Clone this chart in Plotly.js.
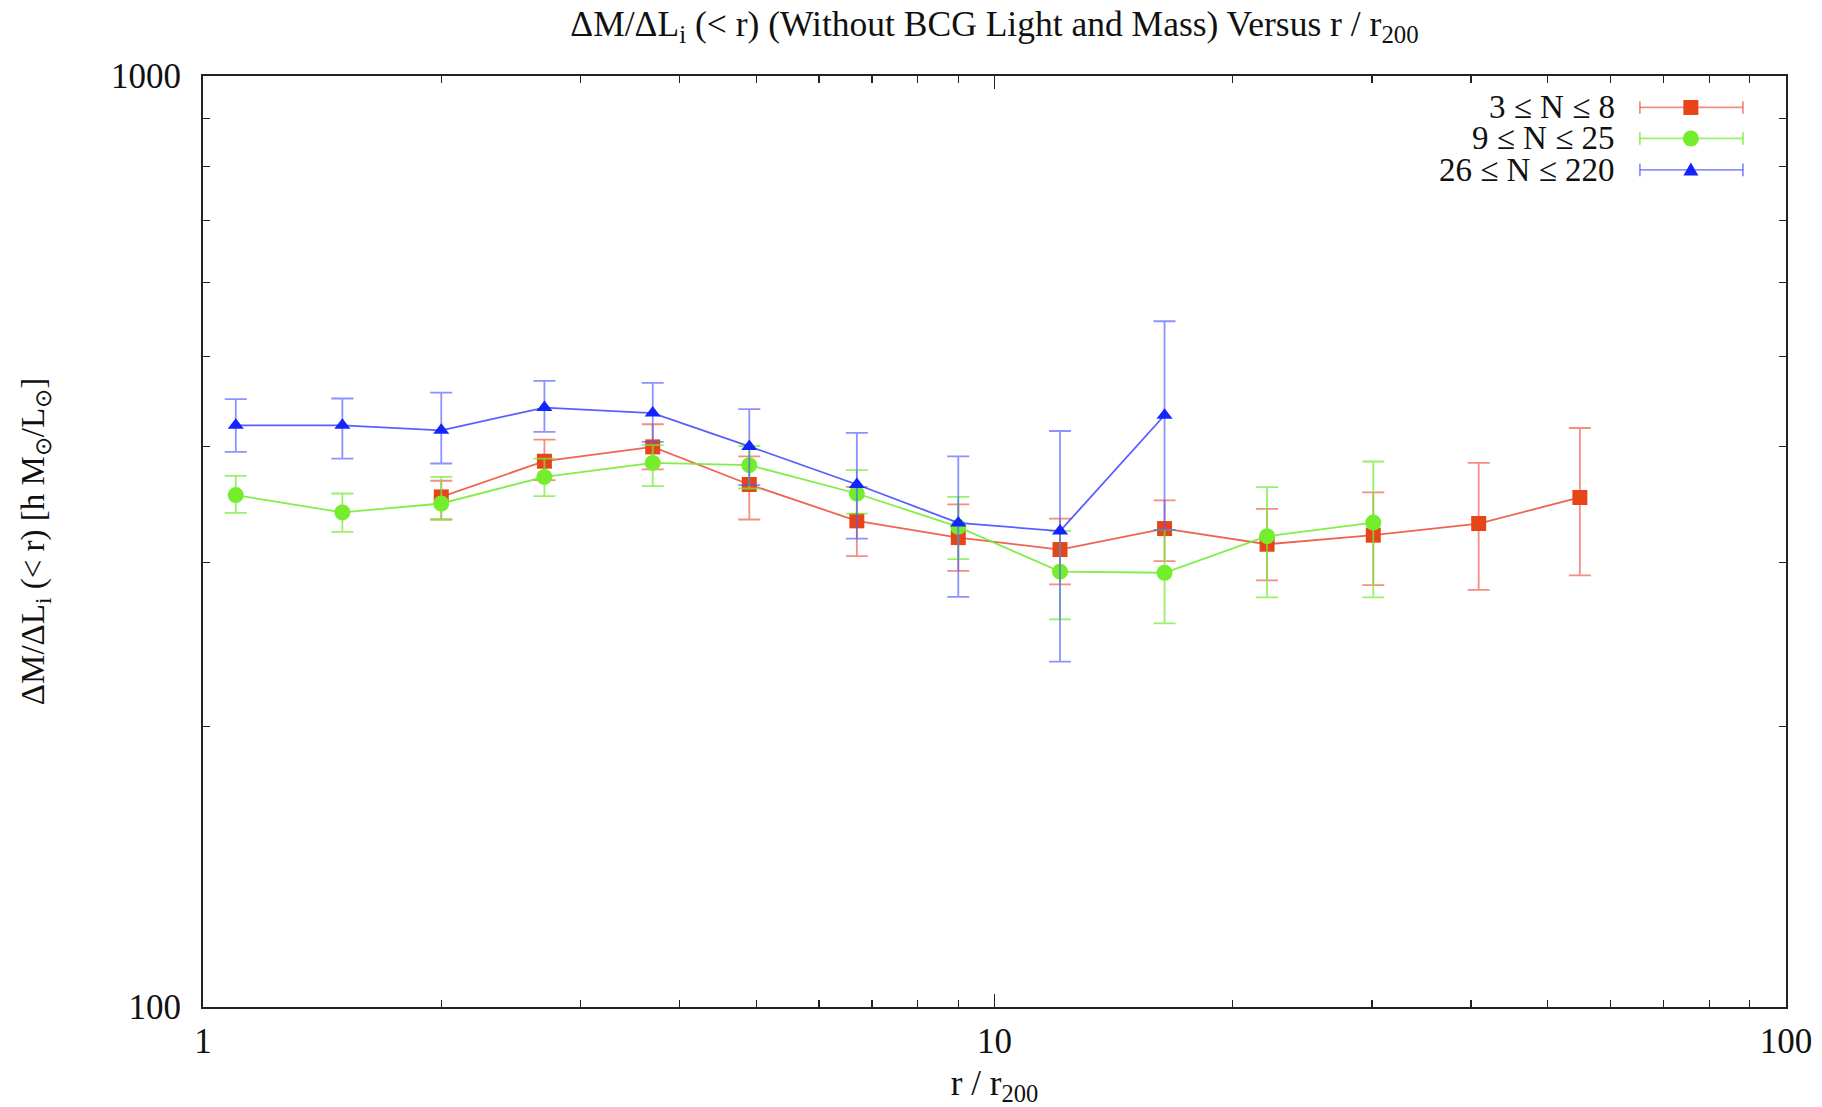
<!DOCTYPE html>
<html>
<head>
<meta charset="utf-8">
<script src="https://cdn.plot.ly/plotly-3.0.1.min.js"></script>
<style>html,body{margin:0;padding:0;background:#fff;}#chart{width:1822px;height:1107px;}</style>
</head>
<body>
<div id="chart"></div>
<script>
// r / r200 positions
const xVals = [1.1, 1.5, 2.0, 2.7, 3.7, 4.9, 6.7, 9.0, 12.1, 16.4, 22.1, 30.1, 40.9, 54.9];

// 3 <= N <= 8 (starts at third radius)
const redX  = xVals.slice(2, 14);
const redY  = [353.1, 385.7, 399.6, 364.1, 332.8, 319.3, 310.0, 326.5, 314.1, 321.2, 330.6, 352.6];
const redHi = [367.5, 406.9, 422.6, 390.4, 361.9, 346.7, 334.7, 350.0, 342.8, 357.0, 384.1, 418.7];
const redLo = [333.9, 368.0, 377.9, 333.9, 305.0, 294.1, 284.4, 301.2, 287.2, 283.9, 280.5, 290.8];

// 9 <= N <= 25
const greenX  = xVals.slice(0, 12);
const greenY  = [354.7, 339.8, 347.4, 371.0, 384.1, 381.9, 356.1, 327.9, 293.5, 292.7, 320.4, 331.4];
const greenHi = [372.0, 356.1, 371.0, 388.2, 401.3, 400.5, 377.3, 353.1, 324.7, 325.5, 361.8, 385.4];
const greenLo = [339.5, 323.9, 333.9, 353.7, 362.6, 360.5, 338.8, 302.7, 260.8, 258.2, 275.4, 275.4];

// 26 <= N <= 220
const blueX  = xVals.slice(0, 10);
const blueY  = [421.5, 421.5, 416.3, 440.4, 434.5, 400.1, 364.1, 331.1, 324.5, 432.1];
const blueHi = [449.6, 450.4, 457.0, 470.4, 468.1, 438.7, 413.6, 390.4, 415.6, 545.2];
const blueLo = [394.7, 388.2, 383.5, 414.7, 404.6, 363.6, 318.5, 275.8, 234.9, 325.5];

const seriesNames = ['3 ≤ N ≤ 8', '9 ≤ N ≤ 25', '26 ≤ N ≤ 220'];
const xTickVals = [1, 10, 100];
const xTickText = ['1', '10', '100'];
const xMinorVals = [2,3,4,5,6,7,8,9,20,30,40,50,60,70,80,90];
const yTickVals = [100, 1000];
const yTickText = ['100', '1000'];
const yMinorVals = [200,300,400,500,600,700,800,900];

const FONT = 'Liberation Serif, Times New Roman, serif';

function diff(a, b) { return a.map((v, i) => v - b[i]); }

const styles = [
  {marker: '#e8441a', line: 'rgba(236,72,50,0.85)', err: 'rgba(238,90,70,0.68)', symbol: 'square', size: 15},
  {marker: '#74ee2c', line: 'rgba(112,236,48,0.88)', err: 'rgba(116,236,56,0.75)', symbol: 'circle', size: 16},
  {marker: '#1424ff', line: 'rgba(50,60,255,0.82)', err: 'rgba(80,90,255,0.66)', symbol: 'triangle-up', size: 14}
];

const data = [
  [redX, redY, redHi, redLo],
  [greenX, greenY, greenHi, greenLo],
  [blueX, blueY, blueHi, blueLo]
].map((s, i) => ({
  type: 'scatter',
  mode: 'lines+markers',
  name: seriesNames[i],
  x: s[0], y: s[1],
  line: {color: styles[i].line, width: 1.8},
  marker: {color: styles[i].marker, symbol: styles[i].symbol, size: styles[i].size, line: {width: 0}},
  error_y: {type: 'data', symmetric: false, array: diff(s[2], s[1]), arrayminus: diff(s[1], s[3]),
            color: styles[i].err, thickness: 1.8, width: 11},
  showlegend: false
}));

// gnuplot-style key: text right-aligned, sample on the right
const legendRows = [0.9662, 0.9329, 0.8991];
const shapes = [];
const annotations = [];
legendRows.forEach((yp, i) => {
  const st = styles[i];
  annotations.push({xref: 'paper', yref: 'paper', x: 0.8932, y: yp, xanchor: 'right', yanchor: 'middle',
    text: seriesNames[i], showarrow: false, font: {family: FONT, size: 33, color: '#111'}});
  shapes.push({type: 'line', xref: 'paper', yref: 'paper', x0: 0.9077, x1: 0.9728, y0: yp, y1: yp,
    line: {color: st.err, width: 1.8}});
  [0.9077, 0.9728].forEach(xc => shapes.push({type: 'line', xref: 'paper', yref: 'paper',
    x0: xc, x1: xc, y0: yp - 0.0068, y1: yp + 0.0068, line: {color: st.err, width: 1.8}}));
  const base = {xref: 'paper', yref: 'paper', xsizemode: 'pixel', ysizemode: 'pixel',
    xanchor: 0.9399, yanchor: yp, fillcolor: st.marker, line: {width: 0}};
  if (i === 0) shapes.push(Object.assign({type: 'rect', x0: -7.5, x1: 7.5, y0: -7.5, y1: 7.5}, base));
  if (i === 1) shapes.push(Object.assign({type: 'circle', x0: -8, x1: 8, y0: -8, y1: 8}, base));
  if (i === 2) shapes.push(Object.assign({type: 'path', path: 'M -7.5 -5.5 L 7.5 -5.5 L 0 7.5 Z'}, base));
});

const axisCommon = {
  type: 'log', showline: true, linecolor: '#222', linewidth: 2, mirror: 'ticks',
  ticks: 'inside', ticklen: 13, tickwidth: 1.5, tickcolor: '#222',
  showgrid: false, zeroline: false,
  tickfont: {family: FONT, size: 35, color: '#111'}
};

const layout = {
  width: 1822, height: 1107,
  paper_bgcolor: '#fff', plot_bgcolor: '#fff',
  margin: {l: 203, r: 36, t: 76, b: 100},
  font: {family: FONT, color: '#111'},
  title: {text: 'ΔM/ΔL<sub>i</sub> (&lt; r) (Without BCG Light and Mass) Versus r / r<sub>200</sub>',
          font: {family: FONT, size: 35.5, color: '#111'}, x: 0.5, xref: 'paper', xanchor: 'center',
          y: 0.979, yref: 'container', yanchor: 'middle'},
  xaxis: Object.assign({}, axisCommon, {
    range: [0, 2], tickmode: 'array', tickvals: xTickVals, ticktext: xTickText,
    ticklabelstandoff: 2,
    minor: {tickmode: 'array', tickvals: xMinorVals, ticks: 'inside', ticklen: 7, tickwidth: 1.3, tickcolor: '#222'},
    title: {text: 'r / r<sub>200</sub>', font: {family: FONT, size: 35, color: '#111'}, standoff: 21}
  }),
  yaxis: Object.assign({}, axisCommon, {
    range: [2, 3], tickmode: 'array', tickvals: yTickVals, ticktext: yTickText,
    ticklabelstandoff: 13,
    minor: {tickmode: 'array', tickvals: yMinorVals, ticks: 'inside', ticklen: 7, tickwidth: 1.3, tickcolor: '#222'},
    title: {text: 'ΔM/ΔL<sub>i</sub> (&lt; r) [h M<sub>⊙</sub>/L<sub>⊙</sub>]', font: {family: FONT, size: 33, color: '#111'}, standoff: 56}
  }),
  shapes: shapes,
  annotations: annotations
};

Plotly.newPlot('chart', data, layout, {displayModeBar: false, staticPlot: true});
</script>
</body>
</html>
